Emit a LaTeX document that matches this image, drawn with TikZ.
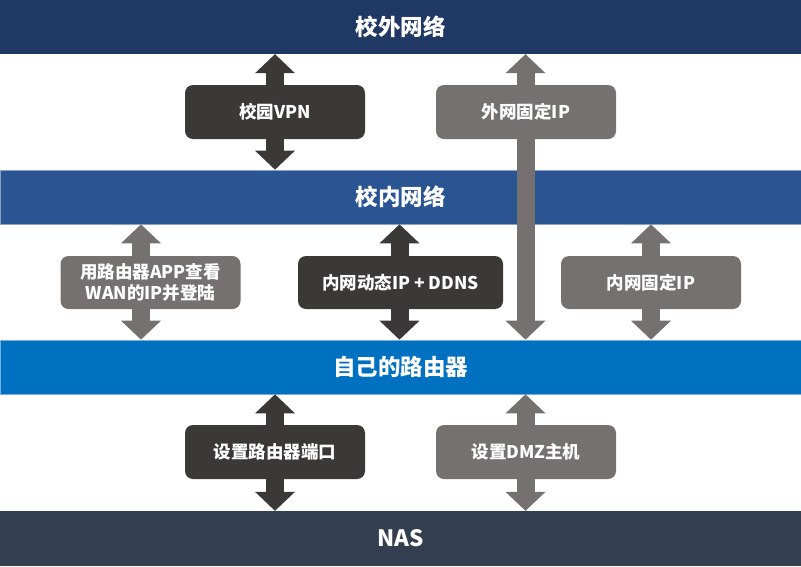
\documentclass[tikz,border=0pt]{standalone}
\usepackage{fontspec}
\setmainfont{Noto Sans CJK SC}
\usetikzlibrary{arrows.meta,backgrounds}
\definecolor{bandA}{HTML}{203864}
\definecolor{bandB}{HTML}{2B5592}
\definecolor{bandC}{HTML}{0070C0}
\definecolor{bandD}{HTML}{333F50}
\definecolor{darkbox}{HTML}{3B3838}
\definecolor{greybox}{HTML}{767171}
\tikzset{
  band/.style={minimum width=801pt, minimum height=54pt, inner sep=0pt, text=white,
    font=\fontsize{22.5}{26}\selectfont\bfseries},
  box/.style={rounded corners=8pt, minimum height=54pt, inner sep=0pt, text=white,
    align=center, font=\fontsize{17.5}{21.5}\selectfont\bfseries},
  dbl/.style={line width=18pt,
    {Triangle[width=40pt,length=19pt,line width=0pt]}-{Triangle[width=40pt,length=19pt,line width=0pt]}},
}
\begin{document}
\begin{tikzpicture}[x=1pt,y=-1pt]
\path[use as bounding box] (0,0) rectangle (801,566);
% boxes
\node[box, fill=darkbox, minimum width=180pt] (vpn) at (275,112) {校园VPN};
\node[box, fill=greybox, minimum width=180pt] (wgd) at (526,112) {外网固定IP};
\node[box, fill=greybox, minimum width=180pt, minimum height=53pt] (app) at (150.5,282.5) {用路由器APP查看\\WAN的IP并登陆};
\node[box, fill=darkbox, minimum width=205pt, minimum height=53pt] (ddns) at (400.5,282.5) {内网动态IP + DDNS};
\node[box, fill=greybox, minimum width=180pt, minimum height=53pt] (ngd) at (651,282.5) {内网固定IP};
\node[box, fill=darkbox, minimum width=180pt] (port) at (275,452) {设置路由器端口};
\node[box, fill=greybox, minimum width=180pt] (dmz) at (526,452) {设置DMZ主机};
% arrow axes
\coordinate (xa) at (275,0);
\coordinate (xb) at (525.5,0);
\coordinate (xc) at (141,0);
\coordinate (xd) at (399.5,0);
\coordinate (xe) at (651,0);
\begin{scope}[on background layer]
% bands
\node[band, fill=bandA] (ext) at (400.5,27) {校外网络};
\node[band, fill=bandB, draw=bandB!55!white, line width=0.7pt] (int) at (400.5,197) {校内网络};
\node[band, fill=bandC, draw=bandC!55!white, line width=0.7pt] (rtr) at (400.5,367) {自己的路由器};
\node[band, fill=bandD, minimum height=55pt] (nas) at (400.5,538.5) {NAS};
% arrows
\draw[dbl, darkbox] (ext.south -| xa) -- (int.north -| xa);
\draw[dbl, greybox] (ext.south -| xb) -- (rtr.north -| xb);
\draw[dbl, greybox] (int.south -| xc) -- (rtr.north -| xc);
\draw[dbl, darkbox] (int.south -| xd) -- (rtr.north -| xd);
\draw[dbl, greybox] (int.south -| xe) -- (rtr.north -| xe);
\draw[dbl, darkbox] (rtr.south -| xa) -- (nas.north -| xa);
\draw[dbl, greybox] (rtr.south -| xb) -- (nas.north -| xb);
\end{scope}
\end{tikzpicture}
\end{document}
